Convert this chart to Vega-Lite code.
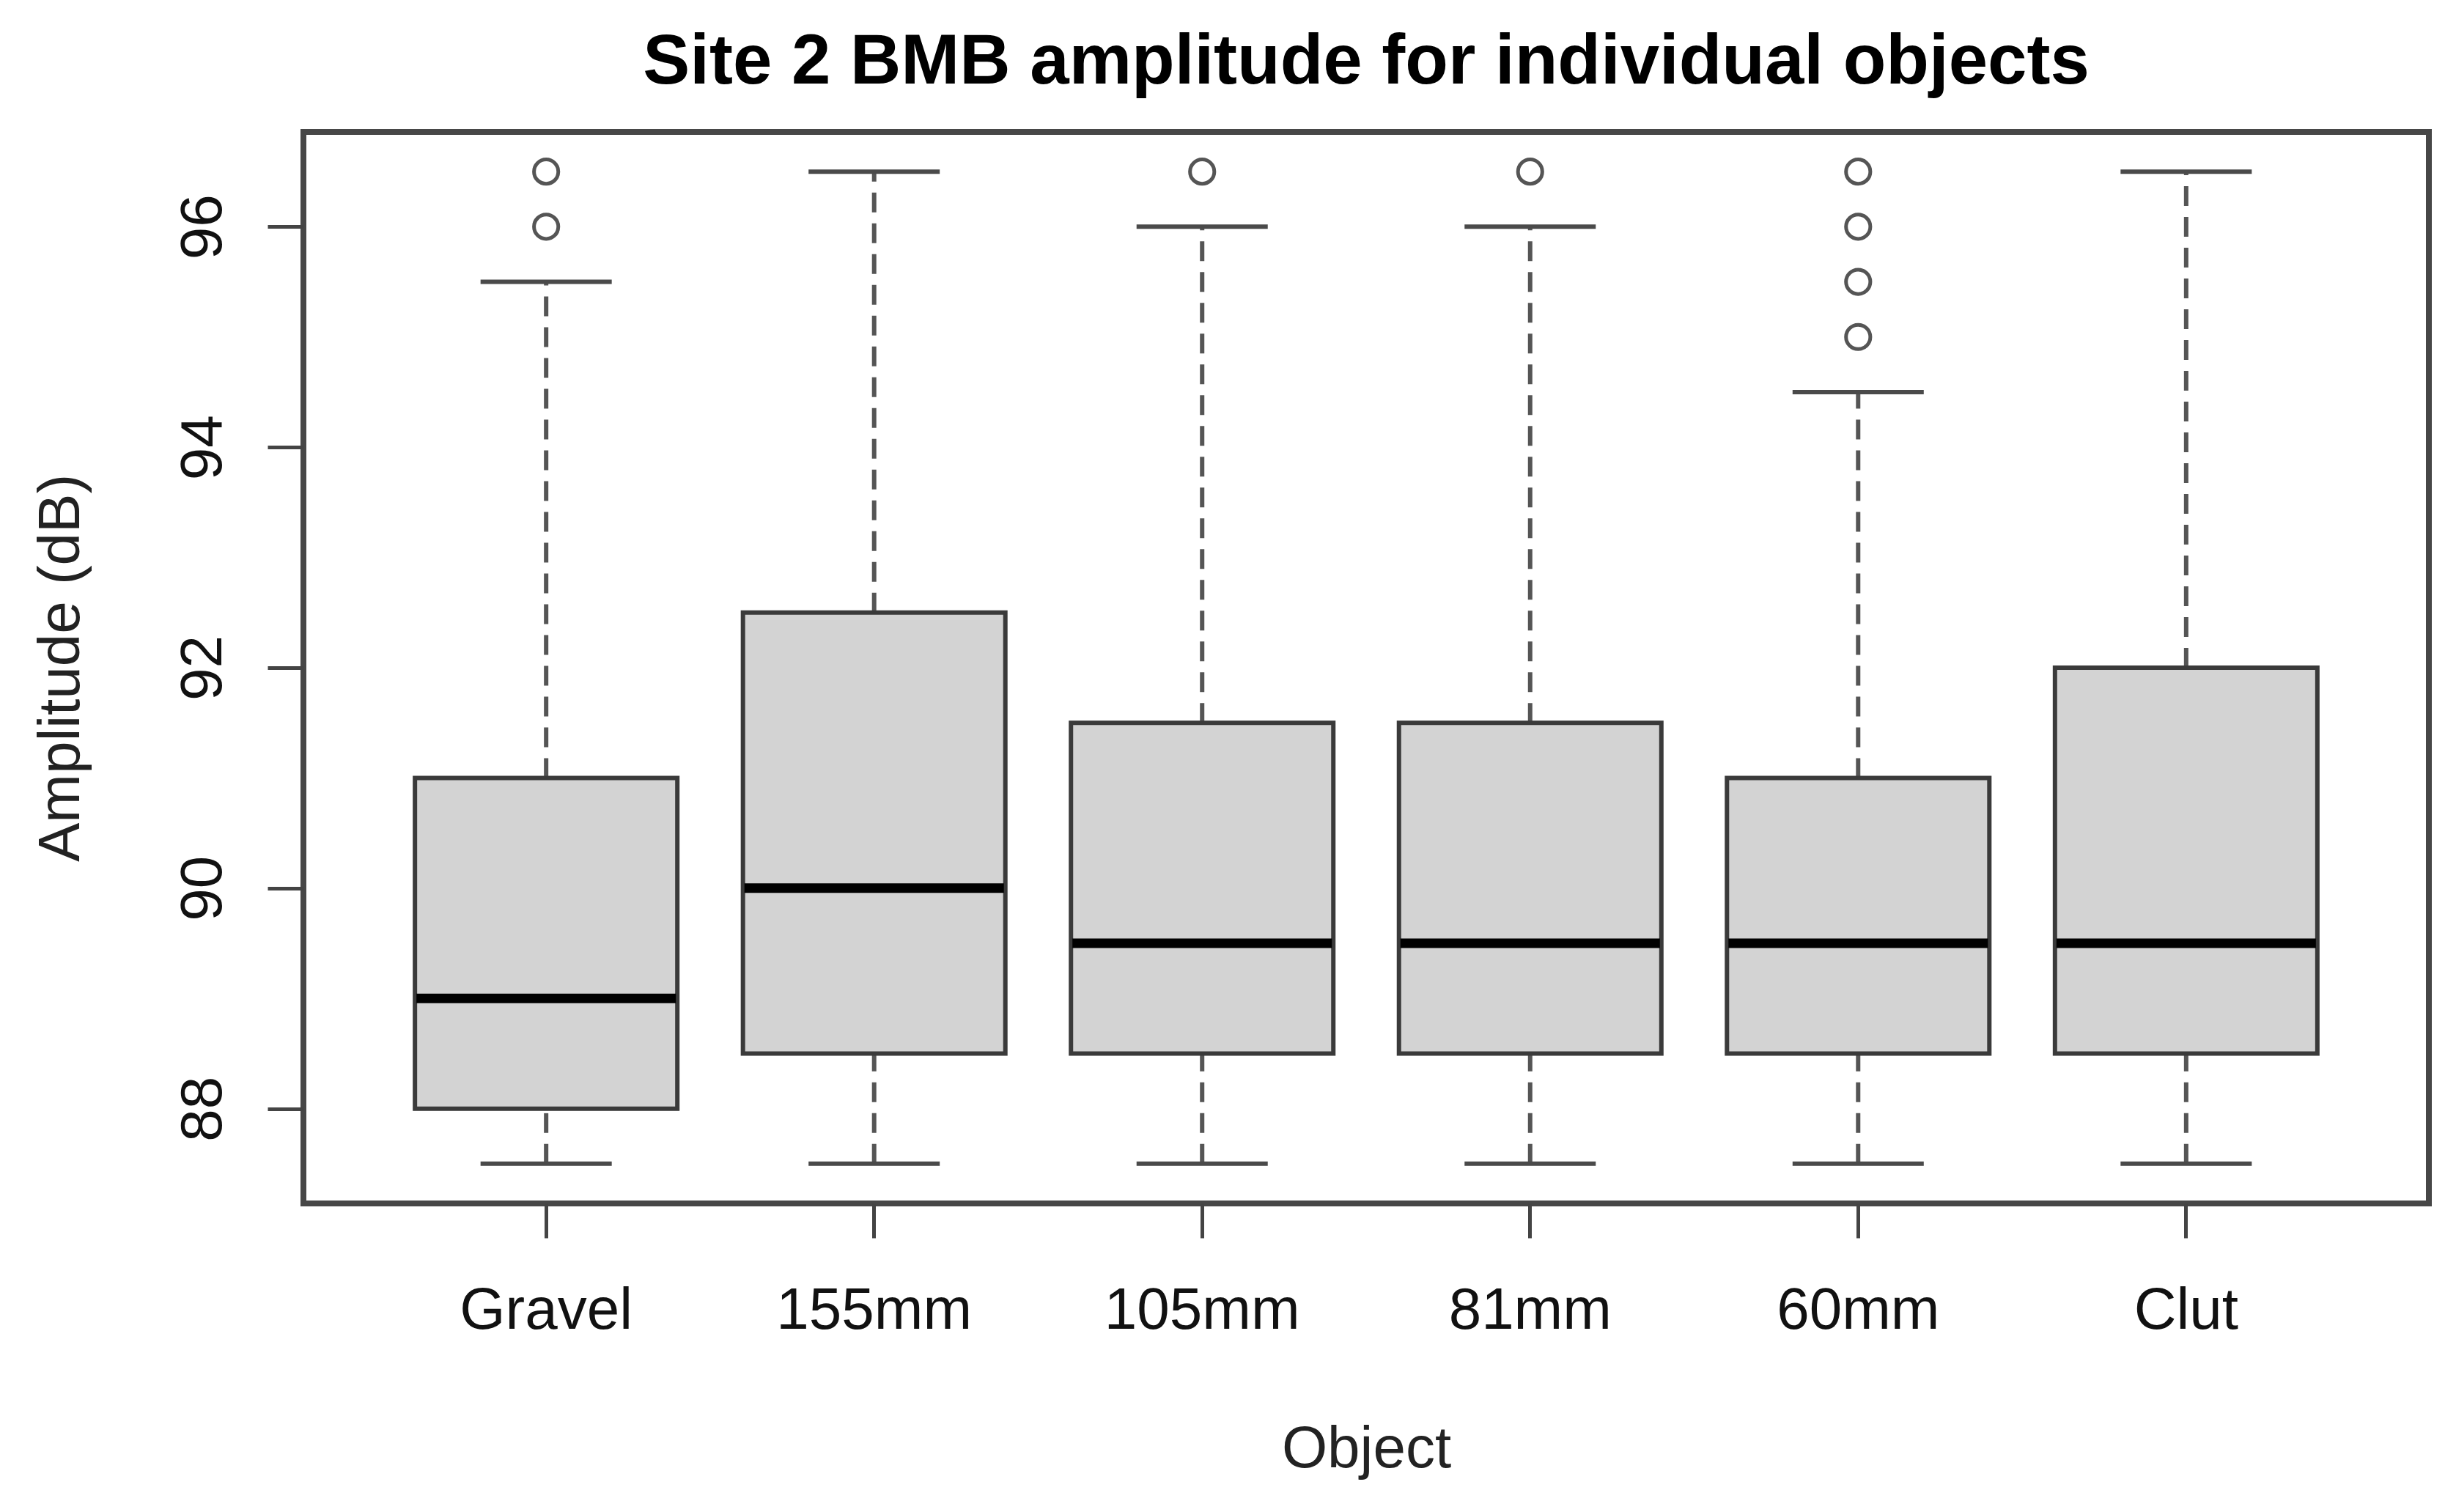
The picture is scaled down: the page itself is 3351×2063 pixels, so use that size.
{
  "$schema": "https://vega.github.io/schema/vega-lite/v6.json",
  "autosize": {"type": "none"},
  "width": 2900,
  "height": 1462,
  "padding": {"left": 414, "top": 180, "right": 37, "bottom": 421},
  "background": "white",
  "config": {
    "font": "Liberation Sans",
    "view": {"stroke": "#474747", "strokeWidth": 8},
    "axis": {"grid": false, "domain": false}
  },
  "title": {
    "text": "Site 2 BMB amplitude for individual objects",
    "fontSize": 96,
    "fontWeight": "bold",
    "color": "#000000",
    "offset": 46,
    "anchor": "middle"
  },
  "datasets": {
    "boxes": [
      {"object": "Gravel", "lower": 87.5, "q1": 88.0, "median": 89.0, "q3": 91.0, "upper": 95.5},
      {"object": "155mm", "lower": 87.5, "q1": 88.5, "median": 90.0, "q3": 92.5, "upper": 96.5},
      {"object": "105mm", "lower": 87.5, "q1": 88.5, "median": 89.5, "q3": 91.5, "upper": 96.0},
      {"object": "81mm", "lower": 87.5, "q1": 88.5, "median": 89.5, "q3": 91.5, "upper": 96.0},
      {"object": "60mm", "lower": 87.5, "q1": 88.5, "median": 89.5, "q3": 91.0, "upper": 94.5},
      {"object": "Clut", "lower": 87.5, "q1": 88.5, "median": 89.5, "q3": 92.0, "upper": 96.5}
    ],
    "outliers": [
      {"object": "Gravel", "value": 96.0},
      {"object": "Gravel", "value": 96.5},
      {"object": "105mm", "value": 96.5},
      {"object": "81mm", "value": 96.5},
      {"object": "60mm", "value": 95.0},
      {"object": "60mm", "value": 95.5},
      {"object": "60mm", "value": 96.0},
      {"object": "60mm", "value": 96.5}
    ]
  },
  "encoding": {
    "x": {
      "field": "object",
      "type": "nominal",
      "sort": ["Gravel", "155mm", "105mm", "81mm", "60mm", "Clut"],
      "scale": {"paddingInner": 0.2, "paddingOuter": 0.34},
      "axis": {
        "title": "Object",
        "labelAngle": 0,
        "labelLimit": 0,
        "labelFontSize": 80,
        "labelColor": "#111111",
        "labelPadding": 60,
        "tickSize": 47,
        "tickWidth": 5,
        "tickColor": "#444444",
        "titleFontSize": 80,
        "titleFontWeight": "normal",
        "titleColor": "#222222",
        "titlePadding": 110
      }
    }
  },
  "layer": [
    {
      "data": {"name": "boxes"},
      "mark": {"type": "rule", "stroke": "#555555", "strokeWidth": 6, "strokeDash": [27, 15]},
      "encoding": {
        "y": {
          "field": "lower",
          "type": "quantitative",
          "scale": {"domain": [87.14, 96.86], "nice": false, "zero": false},
          "axis": {
            "title": "Amplitude (dB)",
            "values": [88, 90, 92, 94, 96],
            "format": "d",
            "labelAngle": -90,
            "labelAlign": "center",
            "labelBaseline": "alphabetic",
            "labelFontSize": 80,
            "labelColor": "#111111",
            "labelPadding": 64,
            "tickSize": 49,
            "tickWidth": 5,
            "tickColor": "#444444",
            "titleFontSize": 80,
            "titleFontWeight": "normal",
            "titleColor": "#222222",
            "titlePadding": 113
          }
        },
        "y2": {"field": "q1"}
      }
    },
    {
      "data": {"name": "boxes"},
      "mark": {"type": "rule", "stroke": "#555555", "strokeWidth": 6, "strokeDash": [27, 15]},
      "encoding": {
        "y": {"field": "q3", "type": "quantitative"},
        "y2": {"field": "upper"}
      }
    },
    {
      "data": {"name": "boxes"},
      "mark": {"type": "tick", "color": "#4a4a4a", "size": 179, "thickness": 6, "opacity": 1},
      "encoding": {"y": {"field": "lower", "type": "quantitative"}}
    },
    {
      "data": {"name": "boxes"},
      "mark": {"type": "tick", "color": "#4a4a4a", "size": 179, "thickness": 6, "opacity": 1},
      "encoding": {"y": {"field": "upper", "type": "quantitative"}}
    },
    {
      "data": {"name": "boxes"},
      "mark": {"type": "bar", "fill": "#d3d3d3", "stroke": "#3a3a3a", "strokeWidth": 6, "opacity": 1},
      "encoding": {
        "y": {"field": "q1", "type": "quantitative"},
        "y2": {"field": "q3"}
      }
    },
    {
      "data": {"name": "boxes"},
      "mark": {"type": "tick", "color": "#000000", "size": 354, "thickness": 13, "opacity": 1},
      "encoding": {"y": {"field": "median", "type": "quantitative"}}
    },
    {
      "data": {"name": "outliers"},
      "mark": {"type": "point", "shape": "circle", "filled": false, "stroke": "#555555", "strokeWidth": 5, "size": 1100, "opacity": 1},
      "encoding": {"y": {"field": "value", "type": "quantitative"}}
    }
  ]
}
